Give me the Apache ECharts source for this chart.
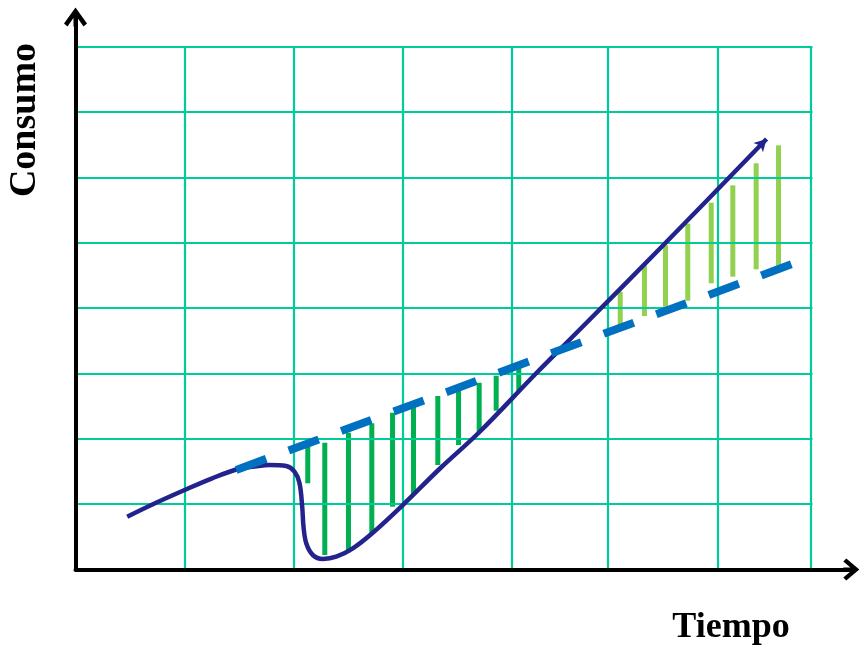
<!DOCTYPE html>
<html>
<head>
<meta charset="utf-8">
<script src="https://cdn.jsdelivr.net/npm/echarts@6/dist/echarts.min.js"></script>
<style>
html,body{margin:0;padding:0;background:#fff;}
#chart{width:860px;height:647px;}
</style>
</head>
<body>
<div id="chart"></div>
<script>
// ---- data (axis units: x = time cells, y = consumption cells) ----
const curveX = [0.474, 0.724, 0.990, 1.247, 1.503, 1.641, 1.778, 1.931, 2.007, 2.053, 2.078, 2.090, 2.115, 2.175, 2.267, 2.390, 2.542, 2.725, 3.000, 3.336, 3.703, 4.225, 4.618, 5.398, 6.334];
const curveY = [0.808, 1.010, 1.209, 1.392, 1.545, 1.576, 1.599, 1.584, 1.497, 1.324, 0.961, 0.655, 0.401, 0.222, 0.161, 0.196, 0.324, 0.563, 0.987, 1.538, 2.104, 3.007, 3.665, 4.981, 6.588];

const trendX = [1.473, 6.569];
const trendY = [1.523, 4.675];

const darkBarX    = [2.129, 2.285, 2.502, 2.716, 2.906, 3.098, 3.321, 3.511, 3.700, 3.856, 4.063];
const darkBarLow  = [1.319, 0.222, 0.263, 0.563, 0.961, 1.151, 1.599, 1.905, 2.093, 2.430, 2.736];
const darkBarHigh = [1.890, 1.940, 2.093, 2.237, 2.399, 2.513, 2.655, 2.747, 2.858, 2.966, 3.103];

const lightBarX    = [4.993, 5.215, 5.408, 5.612, 5.827, 6.025, 6.239, 6.444];
const lightBarLow  = [3.654, 3.879, 4.021, 4.113, 4.380, 4.481, 4.594, 4.649];
const lightBarHigh = [4.251, 4.655, 4.961, 5.292, 5.613, 5.879, 6.216, 6.491];

const gridLinesX = [1, 2, 3, 4, 4.88, 5.885, 6.737];
const gridLinesY = [1, 2, 3, 4, 5, 6, 7, 8];
const gridEndX = 6.755;
const gridEndY = 8;

const xLabel = 'Tiempo';
const yLabel = 'Consumo';

// ---- build ----
const chart = echarts.init(document.getElementById('chart'));
const arrowX = 'path://M11,0 L22,13 L19,16 L11,6.5 L3,16 L0,13 Z M9,4 L13,4 L13,16 L9,16 Z';
const arrowY = 'path://M11.5,0 L23,16 L19.5,19 L11.5,7.5 L3.5,19 L0,16 Z M9.5,4 L13.5,4 L13.5,19 L9.5,19 Z';

const gridMarks = [];
gridLinesY.forEach(y => gridMarks.push([{coord: [0, y]}, {coord: [gridEndX, y]}]));
gridLinesX.forEach(x => gridMarks.push([{coord: [x, 0]}, {coord: [x, gridEndY]}]));

function barSeries(xs, lows, highs, color) {
  return {
    type: 'custom',
    z: 3,
    silent: true,
    data: xs.map((x, i) => [x, lows[i], highs[i]]),
    renderItem: function (params, api) {
      const p1 = api.coord([api.value(0), api.value(1)]);
      const p2 = api.coord([api.value(0), api.value(2)]);
      const w = 5;
      return {
        type: 'rect',
        shape: {x: p1[0] - w / 2, y: p2[1], width: w, height: p1[1] - p2[1]},
        style: {fill: color}
      };
    }
  };
}

const curveData = curveX.map((x, i) => [x, curveY[i]]);
const last = curveData.length - 1;
curveData[last] = {value: curveData[last], symbol: 'arrow', symbolSize: [10, 12], symbolRotate: -44};

const option = {
  animation: false,
  backgroundColor: '#ffffff',
  grid: {left: 75.5, right: 8.7, top: 17, bottom: 77.5},
  xAxis: {
    type: 'value', min: 0, max: 7.111, z: 10,
    axisLine: {show: true, onZero: false, lineStyle: {color: '#000', width: 4},
      symbol: ['none', arrowX], symbolSize: [22, 16]},
    axisTick: {show: false}, axisLabel: {show: false}, splitLine: {show: false}
  },
  yAxis: {
    type: 'value', min: 0, max: 8.455, z: 10,
    axisLine: {show: true, onZero: false, lineStyle: {color: '#000', width: 4},
      symbol: ['none', arrowY], symbolSize: [23, 19]},
    axisTick: {show: false}, axisLabel: {show: false}, splitLine: {show: false}
  },
  graphic: [
    {type: 'text', x: 25.5, y: 120, rotation: Math.PI / 2,
      style: {text: yLabel, font: 'bold 38px "Liberation Serif"', fill: '#000', textAlign: 'center', textVerticalAlign: 'middle'}},
    {type: 'text', x: 731, y: 628,
      style: {text: xLabel, font: 'bold 36px "Liberation Serif"', fill: '#000', textAlign: 'center', textVerticalAlign: 'middle'}}
  ],
  series: [
    {
      type: 'line', z: 1, silent: true, data: [[0, 0]], symbol: 'none', lineStyle: {opacity: 0},
      markLine: {silent: true, symbol: ['none', 'none'], animation: false,
        label: {show: false},
        lineStyle: {color: '#00CC99', width: 2.2, type: 'solid'},
        emphasis: {disabled: true},
        data: gridMarks}
    },
    barSeries(darkBarX, darkBarLow, darkBarHigh, '#00B050'),
    barSeries(lightBarX, lightBarLow, lightBarHigh, '#92D050'),
    {
      type: 'line', z: 5, silent: true, symbol: 'none', showSymbol: true,
      smooth: 0.35,
      data: curveData,
      itemStyle: {color: '#23238E'},
      lineStyle: {color: '#23238E', width: 4.5}
    },
    {
      type: 'line', z: 6, silent: true, symbol: 'none',
      data: trendX.map((x, i) => [x, trendY[i]]),
      lineStyle: {color: '#0070C0', width: 8, type: [32, 24], cap: 'butt'}
    }
  ]
};
chart.setOption(option);
</script>
</body>
</html>
